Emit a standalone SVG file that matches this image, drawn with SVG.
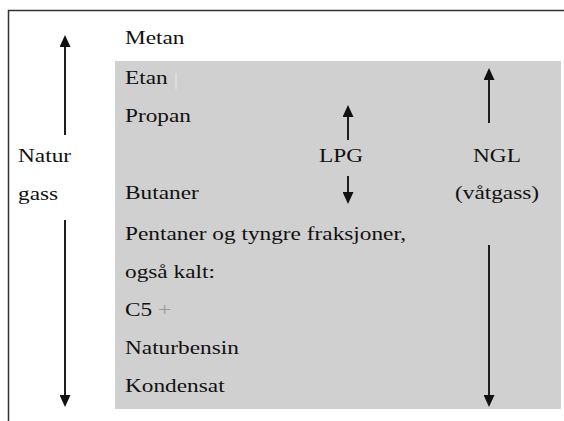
<svg xmlns="http://www.w3.org/2000/svg" width="564" height="421" viewBox="0 0 564 421">
  <style>
    .t { font-family: "Liberation Serif", "Times New Roman", serif; font-size: 18.5px; fill: #111111; }
    .conn { stroke: #1e1e1e; stroke-width: 2; fill: none; marker-end: url(#ah); }
    .frame { stroke: #333; stroke-width: 1.5; fill: none; }
  </style>
  <defs>
    <marker id="ah" viewBox="0 0 12 11" refX="0" refY="5.5" markerWidth="12" markerHeight="11" markerUnits="userSpaceOnUse" orient="auto">
      <path d="M0,0 L12,5.5 L0,11 z" fill="#111"/>
    </marker>
  </defs>
  <rect width="564" height="421" fill="#ffffff"/>
  <g id="frame">
    <path class="frame" d="M8.5,421 V10.5 H564"/>
  </g>
  <g id="ngl-band">
    <rect x="115" y="61" width="446" height="348" fill="#d0d0d0"/>
    <line x1="176" y1="73" x2="176" y2="89" stroke="#ececec" stroke-width="1"/>
  </g>
  <g id="connectors">
    <line class="conn" x1="65" y1="135" x2="65" y2="47"/>
    <line class="conn" x1="65" y1="220" x2="65" y2="395"/>
    <line class="conn" x1="348" y1="140" x2="348" y2="117"/>
    <line class="conn" x1="348" y1="176" x2="348" y2="192"/>
    <line class="conn" x1="489" y1="123" x2="489" y2="80"/>
    <line class="conn" x1="489" y1="245" x2="489" y2="395"/>
  </g>
  <g id="metan" transform="scale(1.26 1)"><text class="t" x="99.2" y="44">Metan</text></g>
  <g id="etan" transform="scale(1.26 1)"><text class="t" x="99.2" y="84">Etan</text></g>
  <g id="propan" transform="scale(1.26 1)"><text class="t" x="99.2" y="122">Propan</text></g>
  <g id="butaner" transform="scale(1.26 1)"><text class="t" x="99.2" y="199">Butaner</text></g>
  <g id="pentaner" transform="scale(1.26 1)"><text class="t" x="99.2" y="240">Pentaner og tyngre fraksjoner,</text></g>
  <g id="ogsa" transform="scale(1.26 1)"><text class="t" x="99.2" y="278">også kalt:</text></g>
  <g id="c5" transform="scale(1.26 1)"><text class="t" x="99.2" y="316">C5 <tspan fill="#9a9a9a">+</tspan></text></g>
  <g id="naturbensin" transform="scale(1.26 1)"><text class="t" x="99.2" y="354">Naturbensin</text></g>
  <g id="kondensat" transform="scale(1.26 1)"><text class="t" x="99.2" y="392">Kondensat</text></g>
  <g id="naturgass" transform="scale(1.26 1)">
    <text class="t" x="14.3" y="162">Natur</text>
    <text class="t" x="14.3" y="200">gass</text>
  </g>
  <g id="lpg" transform="scale(1.26 1)"><text class="t" x="253.2" y="162">LPG</text></g>
  <g id="ngl" transform="scale(1.26 1)">
    <text class="t" x="375.4" y="162">NGL</text>
    <text class="t" x="361.1" y="199">(våtgass)</text>
  </g>
</svg>
